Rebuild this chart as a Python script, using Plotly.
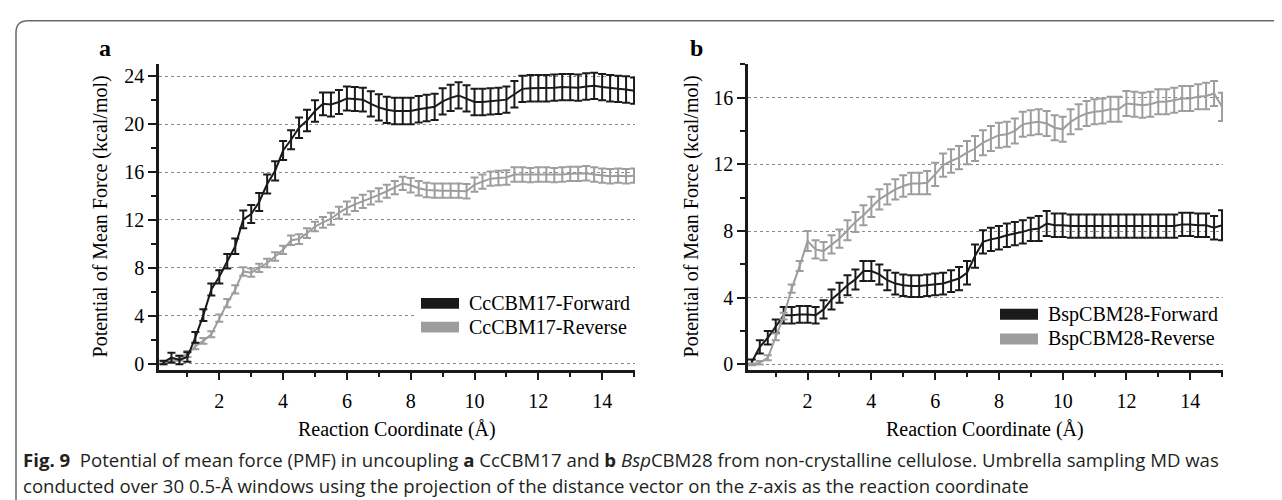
import plotly.graph_objects as go

# ---------------- data ----------------
x_coord = [0.25, 0.5, 0.75, 1.0, 1.25, 1.5, 1.75, 2.0, 2.25, 2.5, 2.75, 3.0,
           3.25, 3.5, 3.75, 4.0, 4.25, 4.5, 4.75, 5.0, 5.25, 5.5, 5.75, 6.0,
           6.25, 6.5, 6.75, 7.0, 7.25, 7.5, 7.75, 8.0, 8.25, 8.5, 8.75, 9.0,
           9.25, 9.5, 9.75, 10.0, 10.25, 10.5, 10.75, 11.0, 11.25, 11.5, 11.75, 12.0,
           12.25, 12.5, 12.75, 13.0, 13.25, 13.5, 13.75, 14.0, 14.25, 14.5, 14.75, 15.0]

cc_forward = [0.1, 0.5, 0.3, 0.55, 2.2, 4.05, 6.2, 7.25, 8.55, 9.8, 12.05, 12.5,
              13.5, 15.0, 16.1, 17.8, 18.7, 19.7, 20.3, 21.1, 21.7, 21.65, 21.85, 22.15,
              22.1, 22.05, 21.7, 21.4, 21.2, 21.1, 21.1, 21.1, 21.25, 21.35, 21.45, 21.9,
              22.2, 22.4, 22.15, 21.85, 21.85, 21.9, 21.95, 22.05, 22.5, 22.95, 23.0, 23.0,
              23.0, 23.05, 23.1, 23.1, 23.05, 23.15, 23.2, 23.1, 23.0, 22.95, 22.9, 22.8]
cc_forward_err = [0.15, 0.4, 0.35, 0.4, 0.45, 0.5, 0.5, 0.55, 0.6, 0.65, 0.75, 0.75,
                  0.75, 0.8, 0.8, 0.8, 0.8, 0.85, 0.9, 0.9, 0.95, 1.0, 1.0, 1.0,
                  1.0, 1.0, 1.05, 1.1, 1.1, 1.1, 1.1, 1.1, 1.1, 1.1, 1.1, 1.1,
                  1.1, 1.1, 1.1, 1.1, 1.1, 1.1, 1.1, 1.1, 1.1, 1.1, 1.1, 1.1,
                  1.1, 1.1, 1.1, 1.1, 1.1, 1.1, 1.1, 1.1, 1.1, 1.1, 1.1, 1.1]

cc_reverse = [0.05, 0.2, 0.45, 0.8, 1.45, 1.9, 2.45, 3.8, 5.05, 6.2, 7.7, 7.6,
              8.0, 8.4, 8.95, 9.5, 10.3, 10.4, 10.9, 11.45, 11.8, 12.1, 12.6, 13.0,
              13.3, 13.55, 13.85, 14.1, 14.4, 14.7, 15.05, 14.9, 14.65, 14.5, 14.45, 14.45,
              14.45, 14.45, 14.4, 14.95, 15.2, 15.45, 15.5, 15.55, 15.8, 15.8, 15.75, 15.8,
              15.8, 15.75, 15.8, 15.85, 15.85, 15.9, 15.8, 15.7, 15.65, 15.7, 15.65, 15.7]
cc_reverse_err = [0.1, 0.15, 0.2, 0.25, 0.25, 0.25, 0.25, 0.3, 0.35, 0.35, 0.35, 0.35,
                  0.35, 0.35, 0.35, 0.35, 0.4, 0.4, 0.4, 0.4, 0.45, 0.5, 0.5, 0.55,
                  0.55, 0.55, 0.55, 0.55, 0.55, 0.55, 0.55, 0.6, 0.6, 0.6, 0.6, 0.6,
                  0.6, 0.6, 0.6, 0.6, 0.6, 0.6, 0.6, 0.6, 0.6, 0.6, 0.6, 0.6,
                  0.6, 0.6, 0.6, 0.6, 0.6, 0.6, 0.6, 0.6, 0.6, 0.6, 0.6, 0.6]

bsp_forward = [0.15, 1.05, 1.6, 2.3, 2.95, 2.95, 3.0, 3.0, 2.95, 3.3, 3.9, 4.3,
               4.75, 5.1, 5.6, 5.6, 5.4, 5.05, 4.85, 4.75, 4.7, 4.7, 4.75, 4.8,
               4.85, 5.0, 5.15, 5.5, 6.5, 7.35, 7.5, 7.6, 7.75, 7.85, 7.95, 8.1,
               8.15, 8.45, 8.35, 8.35, 8.3, 8.3, 8.3, 8.3, 8.3, 8.3, 8.3, 8.3,
               8.3, 8.3, 8.3, 8.3, 8.3, 8.3, 8.4, 8.4, 8.35, 8.35, 8.2, 8.35]
bsp_forward_err = [0.15, 0.4, 0.4, 0.4, 0.5, 0.5, 0.5, 0.5, 0.5, 0.55, 0.6, 0.6,
                   0.6, 0.6, 0.6, 0.6, 0.6, 0.6, 0.65, 0.65, 0.65, 0.65, 0.65, 0.65,
                   0.65, 0.65, 0.7, 0.7, 0.7, 0.7, 0.7, 0.7, 0.7, 0.7, 0.7, 0.7,
                   0.75, 0.75, 0.7, 0.7, 0.7, 0.7, 0.7, 0.7, 0.7, 0.7, 0.7, 0.7,
                   0.7, 0.7, 0.7, 0.7, 0.7, 0.7, 0.7, 0.7, 0.7, 0.7, 0.7, 0.9]

bsp_reverse = [0.0, 0.1, 0.4, 1.65, 2.9, 4.55, 5.9, 7.4, 6.9, 6.8, 7.2, 7.55,
               8.05, 8.55, 8.95, 9.45, 9.9, 10.2, 10.5, 10.7, 10.85, 10.85, 10.9, 11.4,
               11.95, 12.2, 12.4, 12.7, 12.95, 13.3, 13.55, 13.75, 13.8, 14.0, 14.4, 14.5,
               14.55, 14.45, 14.2, 14.1, 14.55, 14.85, 15.05, 15.15, 15.2, 15.3, 15.3, 15.65,
               15.6, 15.55, 15.6, 15.75, 15.75, 15.85, 15.95, 15.95, 16.05, 16.1, 16.25, 15.45]
bsp_reverse_err = [0.05, 0.1, 0.15, 0.2, 0.2, 0.25, 0.3, 0.6, 0.55, 0.55, 0.55, 0.55,
                   0.6, 0.6, 0.6, 0.6, 0.6, 0.6, 0.6, 0.65, 0.65, 0.65, 0.7, 0.7,
                   0.7, 0.7, 0.7, 0.7, 0.75, 0.75, 0.75, 0.75, 0.75, 0.75, 0.75, 0.75,
                   0.75, 0.75, 0.75, 0.75, 0.75, 0.75, 0.75, 0.75, 0.75, 0.75, 0.75, 0.75,
                   0.75, 0.75, 0.75, 0.75, 0.75, 0.75, 0.75, 0.75, 0.75, 0.8, 0.75, 0.85]

a_yticks = [0, 4, 8, 12, 16, 20, 24]
b_yticks = [0, 4, 8, 12, 16]
x_ticks = [2, 4, 6, 8, 10, 12, 14]

legend_a = ["CcCBM17-Forward", "CcCBM17-Reverse"]
legend_b = ["BspCBM28-Forward", "BspCBM28-Reverse"]
x_title = "Reaction Coordinate (Å)"
y_title = "Potential of Mean Force (kcal/mol)"
caption_1 = ("<b>Fig. 9</b>&nbsp;&nbsp;Potential of mean force (PMF) in uncoupling <b>a</b> CcCBM17 and "
             "<b>b</b> <i>Bsp</i>CBM28 from non-crystalline cellulose. Umbrella sampling MD was")
caption_2 = ("conducted over 30 0.5-Å windows using the projection of the distance vector on the "
             "<i>z</i>-axis as the reaction coordinate")

# ---------------- style ----------------
W, H = 1282, 500
BLACK = "#1a1a1a"
GRAY = "#9d9d9d"
SERIF = "Liberation Serif"
SANS = "Open Sans"


def fx(p):
    return p / W


def fy(p):
    return 1 - p / H


fig = go.Figure()


def add_series(xv, yv, ev, color, xa, ya):
    fig.add_trace(go.Scatter(
        x=xv, y=yv, mode="lines", xaxis=xa, yaxis=ya,
        line=dict(color=color, width=2),
        error_y=dict(type="data", array=ev, visible=True, color=color, thickness=2, width=4),
        showlegend=False, hoverinfo="skip"))


add_series(x_coord, cc_reverse, cc_reverse_err, GRAY, "x", "y")
add_series(x_coord, cc_forward, cc_forward_err, BLACK, "x", "y")
add_series(x_coord, bsp_forward, bsp_forward_err, BLACK, "x2", "y2")
add_series(x_coord, bsp_reverse, bsp_reverse_err, GRAY, "x2", "y2")

tickfont = dict(family=SERIF, size=20, color="black")

xcommon = dict(
    tickmode="array", tickvals=x_ticks, ticks="outside", ticklen=8, tickwidth=2,
    tickcolor=BLACK, showline=True, linewidth=2.5, linecolor=BLACK,
    showgrid=False, zeroline=False, tickfont=tickfont, ticklabelstandoff=4,
    minor=dict(tickmode="linear", tick0=1, dtick=1, ticks="outside", ticklen=5,
               tickwidth=2, tickcolor=BLACK, showgrid=False),
)
ycommon = dict(
    tickmode="array", ticks="outside", ticklen=8, tickwidth=2,
    tickcolor=BLACK, showline=True, linewidth=2.5, linecolor=BLACK,
    showgrid=True, gridcolor="#8a8a8a", gridwidth=1, griddash="dot",
    zeroline=False, tickfont=tickfont,
    minor=dict(tickmode="linear", tick0=0, dtick=2, ticks="outside", ticklen=5,
               tickwidth=2, tickcolor=BLACK, showgrid=False),
)

fig.update_layout(
    width=W, height=H, margin=dict(l=0, r=0, t=0, b=0),
    paper_bgcolor="white", plot_bgcolor="white", showlegend=False,
    xaxis=dict(domain=[fx(151), fx(627)], range=[0.11, 15.03], anchor="y", **xcommon),
    yaxis=dict(domain=[fy(366), fy(57)], range=[-0.5, 25.0], anchor="x",
               tickvals=a_yticks, **ycommon),
    xaxis2=dict(domain=[fx(740), fx(1215)], range=[0.13, 15.03], anchor="y2", **xcommon),
    yaxis2=dict(domain=[fy(366), fy(57)], range=[-0.31, 18.0], anchor="x2",
                tickvals=b_yticks, **ycommon),
)

shapes = []
annotations = []


def note(text, xp, yp, font, xanchor="center", yanchor="middle", angle=0):
    annotations.append(dict(text=text, x=fx(xp), y=fy(yp), xref="paper", yref="paper",
                            xanchor=xanchor, yanchor=yanchor, textangle=angle,
                            showarrow=False, font=font))


# frame around figure
shapes.append(dict(
    type="path", xref="paper", yref="paper",
    path=(f"M {fx(8)},{fy(505)} L {fx(8)},{fy(25)} Q {fx(8)},{fy(13)} {fx(20)},{fy(13)} "
          f"L {fx(1290)},{fy(13)}"),
    line=dict(color="#6a6a6a", width=1.5), layer="above"))

# panel letters
note("<b>a</b>", 97, 40, dict(family=SERIF, size=24, color="black"))
note("<b>b</b>", 688, 40, dict(family=SERIF, size=24, color="black"))

# axis titles
for cx in (389, 977):
    note(x_title, cx, 427, dict(family=SERIF, size=20, color="black"))
for cx in (92, 683):
    note(y_title, cx, 211, dict(family=SERIF, size=20, color="black"), angle=-90)

# legends (manual)
shapes.append(dict(type="rect", xref="paper", yref="paper", x0=fx(406), x1=fx(636),
                   y0=fy(337), y1=fy(286), fillcolor="white", line=dict(width=0), layer="above"))


def legend(x0, y_rows, labels):
    for (yy, lab, col) in zip(y_rows, labels, (BLACK, GRAY)):
        shapes.append(dict(type="rect", xref="paper", yref="paper",
                           x0=fx(x0), x1=fx(x0 + 38), y0=fy(yy + 5.5), y1=fy(yy - 5.5),
                           fillcolor=col, line=dict(width=0), layer="above"))
        note(lab, x0 + 46, yy, dict(family=SERIF, size=20, color="black"), xanchor="left")


legend(413, (299, 323), legend_a)
legend(992, (310, 335), legend_b)

# caption
note(caption_1, 13, 457, dict(family=SANS, size=18.6, color="#231f20"), xanchor="left")
note(caption_2, 13, 483, dict(family=SANS, size=18.6, color="#231f20"), xanchor="left")

fig.update_layout(shapes=shapes, annotations=annotations)
fig.write_html("out.html")
